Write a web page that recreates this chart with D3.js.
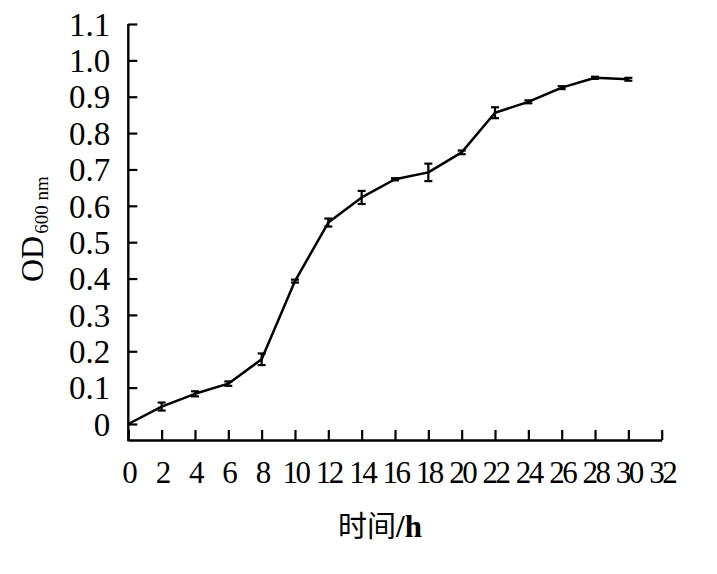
<!DOCTYPE html>
<html>
<head>
<meta charset="utf-8">
<script src="https://cdn.jsdelivr.net/npm/d3@7"></script>
<style>
  html, body { margin: 0; padding: 0; background: #ffffff; }
  svg { display: block; }
</style>
</head>
<body>
<svg id="chart" width="717" height="574"></svg>
<script>
// ---- data ----
const hours = [0, 2, 4, 6, 8, 10, 12, 14, 16, 18, 20, 22, 24, 26, 28, 30];
const od600 = [0, 0.048, 0.083, 0.111, 0.178, 0.393, 0.554, 0.623, 0.673, 0.692, 0.747, 0.856, 0.886, 0.925, 0.952, 0.948];
const odErr = [0, 0.011, 0.007, 0.006, 0.016, 0.004, 0.011, 0.018, 0.003, 0.024, 0.005, 0.015, 0.004, 0.004, 0.003, 0.004];
const xTickValues = [0, 2, 4, 6, 8, 10, 12, 14, 16, 18, 20, 22, 24, 26, 28, 30, 32];
const yTickValues = [0, 0.1, 0.2, 0.3, 0.4, 0.5, 0.6, 0.7, 0.8, 0.9, 1.0, 1.1];
const yTickLabels = ["0", "0.1", "0.2", "0.3", "0.4", "0.5", "0.6", "0.7", "0.8", "0.9", "1.0", "1.1"];
const xTitleCN = "时间";
const xTitleUnit = "/h";

const svg = d3.select("#chart");
const serif = "'Liberation Serif', 'Times New Roman', serif";

const x = d3.scaleLinear().domain([0, 32]).range([128.3, 661.7]);
const y = d3.scaleLinear().domain([0, 1.1]).range([424, 24]);
const axisY = 440; // position of x-axis line
const axisX = 128.3;

// y axis
const yAxis = d3.axisLeft(y)
  .tickValues(yTickValues)
  .tickFormat((d, i) => yTickLabels[i])
  .tickSizeInner(-9)
  .tickSizeOuter(0)
  .tickPadding(18);
const gy = svg.append("g").attr("transform", `translate(${axisX},0)`).call(yAxis);
gy.select(".domain").remove();
gy.selectAll(".tick line").attr("stroke", "#000").attr("stroke-width", 2.2);
gy.selectAll(".tick text")
  .attr("font-family", serif)
  .attr("font-size", 33)
  .attr("fill", "#000")
  .attr("dy", "0.34em");

// x axis
const xAxis = d3.axisBottom(x)
  .tickValues(xTickValues)
  .tickFormat(d3.format("d"))
  .tickSizeInner(-10)
  .tickSizeOuter(0)
  .tickPadding(21);
const gx = svg.append("g").attr("transform", `translate(0,${axisY})`).call(xAxis);
gx.select(".domain").attr("stroke", "#000").attr("stroke-width", 2.4);
gx.selectAll(".tick line").attr("stroke", "#000").attr("stroke-width", 2.2);
gx.selectAll(".tick text")
  .attr("font-family", serif)
  .attr("font-size", 31)
  .attr("letter-spacing", "-2.5px")
  .attr("fill", "#000");

// y axis line (extends down to x axis)
svg.append("line")
  .attr("x1", axisX).attr("x2", axisX)
  .attr("y1", y(1.1)).attr("y2", axisY + 1.2)
  .attr("stroke", "#000").attr("stroke-width", 2.4);

// data line
const pts = hours.map((h, i) => ({ h, v: od600[i], e: odErr[i] }));
svg.append("path")
  .datum(pts)
  .attr("fill", "none")
  .attr("stroke", "#000")
  .attr("stroke-width", 2.5)
  .attr("stroke-linejoin", "round")
  .attr("d", d3.line().x(d => x(d.h)).y(d => y(d.v)));

// error bars
const eb = svg.append("g").attr("stroke", "#000").attr("stroke-width", 2.2);
pts.filter(d => d.e > 0).forEach(d => {
  const cx = x(d.h), y1 = y(d.v + d.e), y2 = y(d.v - d.e);
  eb.append("line").attr("x1", cx).attr("x2", cx).attr("y1", y1).attr("y2", y2);
  eb.append("line").attr("x1", cx - 4).attr("x2", cx + 4).attr("y1", y1).attr("y2", y1);
  eb.append("line").attr("x1", cx - 4).attr("x2", cx + 4).attr("y1", y2).attr("y2", y2);
});

// y title
const yt = svg.append("text")
  .attr("transform", "translate(43,282) rotate(-90)")
  .attr("font-family", serif)
  .attr("font-size", 32)
  .attr("fill", "#000");
yt.append("tspan").text("OD");
yt.append("tspan").attr("font-size", 19).attr("dy", 5).attr("dx", 2).text("600 nm");

// x title
const xt = svg.append("text")
  .attr("x", 380).attr("y", 537)
  .attr("text-anchor", "middle")
  .attr("fill", "#000");
xt.append("tspan").attr("font-family", "'Noto Sans CJK SC', sans-serif").attr("font-size", 29).text(xTitleCN);
xt.append("tspan").attr("font-family", serif).attr("font-size", 31).attr("font-weight", "bold").text(xTitleUnit);
</script>
</body>
</html>
